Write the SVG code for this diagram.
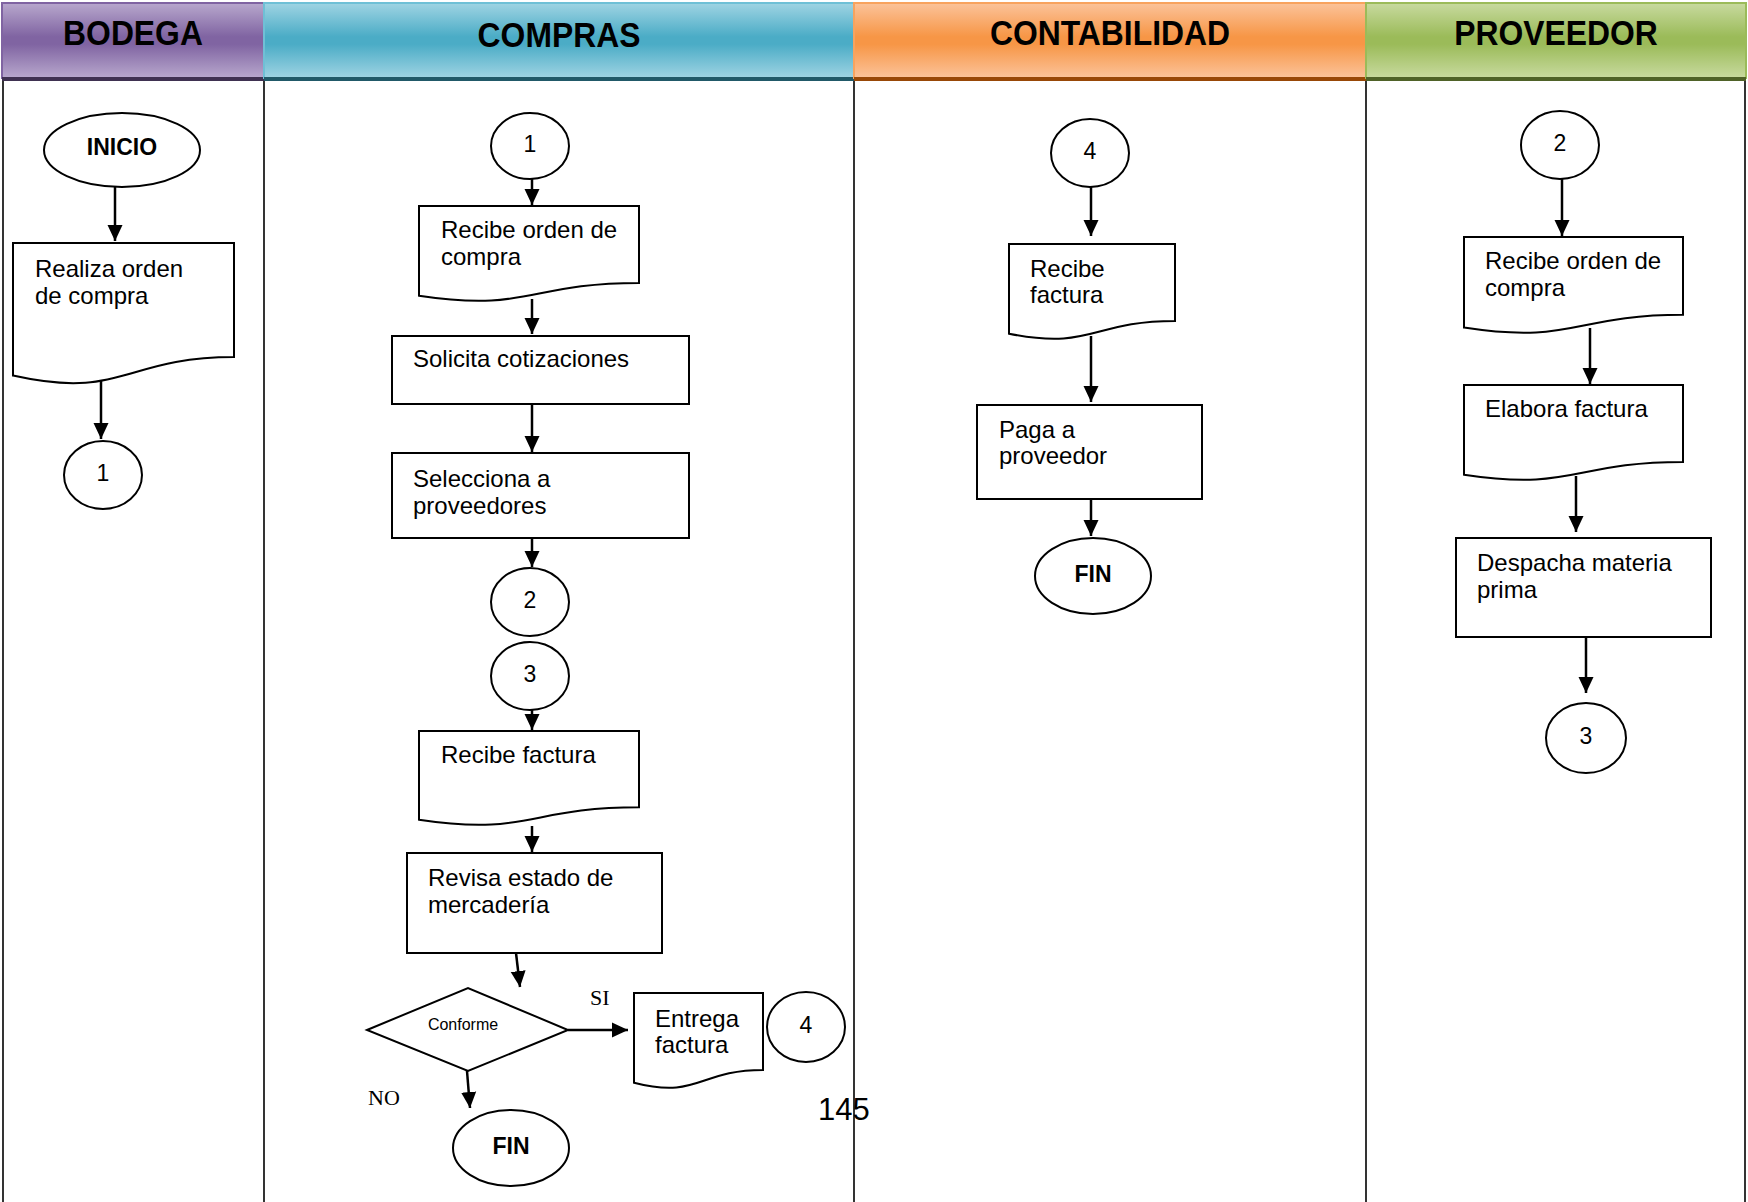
<svg xmlns="http://www.w3.org/2000/svg" width="1748" height="1202" viewBox="0 0 1748 1202">
<defs>
<linearGradient id="gPur" x1="0" y1="0" x2="0" y2="1"><stop offset="0" stop-color="#b8a8cd"/><stop offset="0.45" stop-color="#8064a2"/><stop offset="0.55" stop-color="#8064a2"/><stop offset="1" stop-color="#b8a8cd"/></linearGradient>
<linearGradient id="gTeal" x1="0" y1="0" x2="0" y2="1"><stop offset="0" stop-color="#9fd4e3"/><stop offset="0.45" stop-color="#4bacc6"/><stop offset="0.55" stop-color="#4bacc6"/><stop offset="1" stop-color="#9fd4e3"/></linearGradient>
<linearGradient id="gOra" x1="0" y1="0" x2="0" y2="1"><stop offset="0" stop-color="#fbc39a"/><stop offset="0.45" stop-color="#f79646"/><stop offset="0.55" stop-color="#f79646"/><stop offset="1" stop-color="#fbc39a"/></linearGradient>
<linearGradient id="gGrn" x1="0" y1="0" x2="0" y2="1"><stop offset="0" stop-color="#c8da9f"/><stop offset="0.45" stop-color="#9bbb59"/><stop offset="0.55" stop-color="#9bbb59"/><stop offset="1" stop-color="#c8da9f"/></linearGradient>
<marker id="arr" markerUnits="userSpaceOnUse" markerWidth="16" markerHeight="16" viewBox="0 0 16 16" refX="16" refY="8" orient="auto"><path d="M0,0.5 L16,8 L0,15.5 Z" fill="#000"/></marker>
</defs>
<style>
.shape{fill:#fff;stroke:#000;stroke-width:2}
.lane{stroke:#000;stroke-width:1.6;fill:none}
.conn line{stroke:#000;stroke-width:2.5;marker-end:url(#arr)}
.t{font-family:'Liberation Sans',Arial,sans-serif;font-size:24px;fill:#000}
.n{font-family:'Liberation Sans',Arial,sans-serif;font-size:23px;fill:#000;text-anchor:middle}
.b{font-family:'Liberation Sans',Arial,sans-serif;font-size:23px;font-weight:bold;fill:#000;text-anchor:middle}
.h{font-family:'Liberation Sans',Arial,sans-serif;font-size:35px;font-weight:bold;fill:#000;text-anchor:middle}
.s{font-family:'Liberation Serif','Times New Roman',serif;font-size:22px;fill:#000}
</style>
<rect x="0" y="0" width="1748" height="1202" fill="#fff"/>
<g id="headers">
<rect x="2" y="3" width="262" height="75" fill="url(#gPur)" stroke="#8064a2" stroke-width="2"/>
<rect x="2" y="77" width="262" height="4" fill="#3f3151"/>
<text class="h" transform="translate(133,45) scale(0.91,1)">BODEGA</text>
<rect x="264" y="3" width="590" height="75" fill="url(#gTeal)" stroke="#6fc0d6" stroke-width="2"/>
<rect x="264" y="77" width="590" height="4" fill="#215968"/>
<text class="h" transform="translate(559,47) scale(0.91,1)">COMPRAS</text>
<rect x="854" y="3" width="512" height="75" fill="url(#gOra)" stroke="#f8a35e" stroke-width="2"/>
<rect x="854" y="77" width="512" height="4" fill="#984807"/>
<text class="h" transform="translate(1110,45) scale(0.91,1)">CONTABILIDAD</text>
<rect x="1366" y="3" width="380" height="75" fill="url(#gGrn)" stroke="#9bbb59" stroke-width="2"/>
<rect x="1366" y="77" width="380" height="4" fill="#4f6228"/>
<text class="h" transform="translate(1556,45) scale(0.91,1)">PROVEEDOR</text>
</g>
<g id="lanes">
<line class="lane" x1="3" y1="81" x2="3" y2="1202"/>
<line class="lane" x1="264" y1="81" x2="264" y2="1202"/>
<line class="lane" x1="854" y1="81" x2="854" y2="1202"/>
<line class="lane" x1="1366" y1="81" x2="1366" y2="1202"/>
<line class="lane" x1="1745" y1="81" x2="1745" y2="1202"/>
</g>
<g id="connectors" class="conn">
<line x1="115" y1="187" x2="115" y2="241"/>
<line x1="101" y1="381" x2="101" y2="439"/>
<line x1="532" y1="179" x2="532" y2="205"/>
<line x1="532" y1="299" x2="532" y2="334"/>
<line x1="532" y1="404" x2="532" y2="452"/>
<line x1="532" y1="538" x2="532" y2="567"/>
<line x1="532" y1="709" x2="532" y2="730"/>
<line x1="532" y1="826" x2="532" y2="852"/>
<line x1="516" y1="953" x2="520" y2="987"/>
<line x1="568" y1="1030" x2="628" y2="1030"/>
<line x1="467" y1="1071" x2="470" y2="1108"/>
<line x1="1091" y1="187" x2="1091" y2="236"/>
<line x1="1091" y1="336" x2="1091" y2="402"/>
<line x1="1091" y1="499" x2="1091" y2="536"/>
<line x1="1562" y1="179" x2="1562" y2="236"/>
<line x1="1590" y1="328" x2="1590" y2="384"/>
<line x1="1576" y1="476" x2="1576" y2="532"/>
<line x1="1586" y1="637" x2="1586" y2="693"/>
</g>
<g id="inicio"><ellipse class="shape" cx="122" cy="150" rx="78" ry="37"/><text class="b" x="122" y="155">INICIO</text></g>
<g id="realiza-orden"><path class="shape" d="M13,243 H234 V357 C123.5,357 123.5,400.3 13,375.6 Z"/><text class="t" x="35" y="277">Realiza orden</text><text class="t" x="35" y="304">de compra</text></g>
<g id="c1-bodega"><ellipse class="shape" cx="103" cy="475" rx="39" ry="34"/><text class="n" x="103" y="481">1</text></g>
<g id="c1-compras"><ellipse class="shape" cx="530" cy="146" rx="39" ry="33"/><text class="n" x="530" y="152">1</text></g>
<g id="recibe-orden-compras"><path class="shape" d="M419,206 H639 V283 C529,283 529,312.4 419,295.7 Z"/><text class="t" x="441" y="238">Recibe orden de</text><text class="t" x="441" y="265">compra</text></g>
<g id="solicita"><rect class="shape" x="392" y="336" width="297" height="68"/><text class="t" x="413" y="367">Solicita cotizaciones</text></g>
<g id="selecciona"><rect class="shape" x="392" y="453" width="297" height="85"/><text class="t" x="413" y="487">Selecciona a</text><text class="t" x="413" y="514">proveedores</text></g>
<g id="c2-compras"><ellipse class="shape" cx="530" cy="602" rx="39" ry="34"/><text class="n" x="530" y="608">2</text></g>
<g id="c3-compras"><ellipse class="shape" cx="530" cy="676" rx="39" ry="34"/><text class="n" x="530" y="682">3</text></g>
<g id="recibe-factura-compras"><path class="shape" d="M419,731 H639 V807.2 C529,807.2 529,836.3 419,819.7 Z"/><text class="t" x="441" y="763">Recibe factura</text></g>
<g id="revisa"><rect class="shape" x="407" y="853" width="255" height="100"/><text class="t" x="428" y="886">Revisa estado de</text><text class="t" x="428" y="913">mercadería</text></g>
<g id="conforme"><path class="shape" d="M367,1030 L468,988 L568,1030 L468,1071 Z"/><text class="t" x="463" y="1030" style="font-size:16px;text-anchor:middle">Conforme</text></g>
<g id="lbl-si"><text class="s" x="590" y="1005">SI</text></g>
<g id="lbl-no"><text class="s" x="368" y="1105">NO</text></g>
<g id="entrega"><path class="shape" d="M634,993 H763 V1070 C698.5,1070 698.5,1099.4 634,1082.7 Z"/><text class="t" x="655" y="1027">Entrega</text><text class="t" x="655" y="1053">factura</text></g>
<g id="c4-compras"><ellipse class="shape" cx="806" cy="1027" rx="39" ry="35"/><text class="n" x="806" y="1033">4</text></g>
<g id="fin-compras"><ellipse class="shape" cx="511" cy="1148" rx="58" ry="38"/><text class="b" x="511" y="1154">FIN</text></g>
<g id="page-number"><text class="t" x="818" y="1120" style="font-size:31px">145</text></g>
<g id="c4-contab"><ellipse class="shape" cx="1090" cy="153" rx="39" ry="34"/><text class="n" x="1090" y="159">4</text></g>
<g id="recibe-factura-contab"><path class="shape" d="M1009,244 H1175 V321 C1092,321 1092,350.4 1009,333.7 Z"/><text class="t" x="1030" y="277">Recibe</text><text class="t" x="1030" y="303">factura</text></g>
<g id="paga"><rect class="shape" x="977" y="405" width="225" height="94"/><text class="t" x="999" y="438">Paga a</text><text class="t" x="999" y="464">proveedor</text></g>
<g id="fin-contab"><ellipse class="shape" cx="1093" cy="576" rx="58" ry="38"/><text class="b" x="1093" y="582">FIN</text></g>
<g id="c2-prov"><ellipse class="shape" cx="1560" cy="145" rx="39" ry="34"/><text class="n" x="1560" y="151">2</text></g>
<g id="recibe-orden-prov"><path class="shape" d="M1464,237 H1683 V314.8 C1573.5,314.8 1573.5,344.5 1464,327.6 Z"/><text class="t" x="1485" y="269">Recibe orden de</text><text class="t" x="1485" y="296">compra</text></g>
<g id="elabora"><path class="shape" d="M1464,385 H1683 V462 C1573.5,462 1573.5,491.4 1464,474.7 Z"/><text class="t" x="1485" y="417">Elabora factura</text></g>
<g id="despacha"><rect class="shape" x="1456" y="538" width="255" height="99"/><text class="t" x="1477" y="571">Despacha materia</text><text class="t" x="1477" y="598">prima</text></g>
<g id="c3-prov"><ellipse class="shape" cx="1586" cy="738" rx="40" ry="35"/><text class="n" x="1586" y="744">3</text></g>
</svg>
